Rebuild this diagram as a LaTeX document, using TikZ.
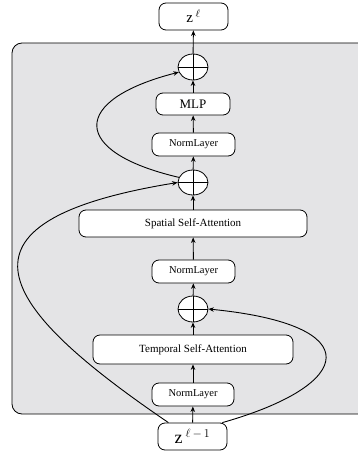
\documentclass[tikz,border=0pt]{standalone}
\usepackage{fontspec}
\setmainfont{Liberation Serif}
\usetikzlibrary{shapes.geometric,arrows.meta}
\definecolor{panelgray}{RGB}{228,228,230}

\begin{document}
\begin{tikzpicture}[x=1pt,y=-1pt,>={Stealth[length=5.5pt,width=4.5pt]},line width=0.9pt,
  block/.style={draw,fill=white,rounded corners=7pt,inner sep=0pt,line width=0.8pt},
  sumnode/.style={draw,fill=white,ellipse,inner sep=0pt,minimum width=30pt,
    minimum height=26pt,line width=0.8pt,
    path picture={\draw[line width=0.8pt]
      (path picture bounding box.west) -- (path picture bounding box.east)
      (path picture bounding box.north) -- (path picture bounding box.south);}},
  every node/.style={font=\small}]
  \useasboundingbox (0,0) rectangle (357,452);
  % grey panel round the block
  \draw[fill=panelgray,rounded corners=10pt,line width=0.8pt] (12,43) rectangle (372,414);

  \node[block,minimum width=69pt,minimum height=27pt] (zout) at (193.5,16.5)
    {\fontsize{15}{15}\selectfont z\,$^{\ell}$};
  \node[sumnode] (plusa) at (193,67) {};
  \node[block,minimum width=74pt,minimum height=22pt,font=\fontsize{13}{13}\selectfont] (mlp) at (193,104) {MLP};
  \node[block,minimum width=83pt,minimum height=23pt,font=\fontsize{10.5}{11}\selectfont] (norma) at (193.5,144.5) {NormLayer};
  \node[sumnode,minimum height=25pt] (plusb) at (193,182.5) {};
  \node[block,minimum width=228pt,minimum height=27pt,font=\fontsize{11}{12}\selectfont] (spatial) at (193,223.5) {Spatial Self-Attention};
  \node[block,minimum width=83pt,minimum height=23pt,font=\fontsize{10.5}{11}\selectfont] (normb) at (193.5,271.5) {NormLayer};
  \node[sumnode] (plusc) at (193,309) {};
  \node[block,minimum width=200pt,minimum height=29pt,font=\fontsize{11}{12}\selectfont] (temporal) at (193,349.5) {Temporal Self-Attention};
  \node[block,minimum width=82pt,minimum height=23pt,font=\fontsize{10.5}{11}\selectfont] (normc) at (193,394.5) {NormLayer};
  \node[block,minimum width=69pt,minimum height=27pt] (zin) at (192.5,436.5)
    {\fontsize{18}{18}\selectfont z\,$^{\ell\mkern3mu-\mkern3mu1}$};

  % main path
  \draw[->] (zin) -- (normc);
  \draw[->] (normc) -- (temporal);
  \draw[->] (temporal) -- (plusc);
  \draw[->] (plusc) -- (normb);
  \draw[->] (normb) -- (spatial);
  \draw[->] (spatial) -- (plusb);
  \draw[->] (plusb) -- (norma);
  \draw[->] (norma) -- (mlp);
  \draw[->] (mlp) -- (plusa);
  \draw[->] (plusa) -- (zout);

  % skip connections
  \draw[->] (zin.150) .. controls (0,308) and (-65,222) .. (plusb.west);
  \draw[->] (zin.25) .. controls (355,385) and (370,325) .. (plusc.east);
  \draw[->] (plusb.160) .. controls (70,152) and (70,100) .. (plusa.200);
\end{tikzpicture}
\end{document}
